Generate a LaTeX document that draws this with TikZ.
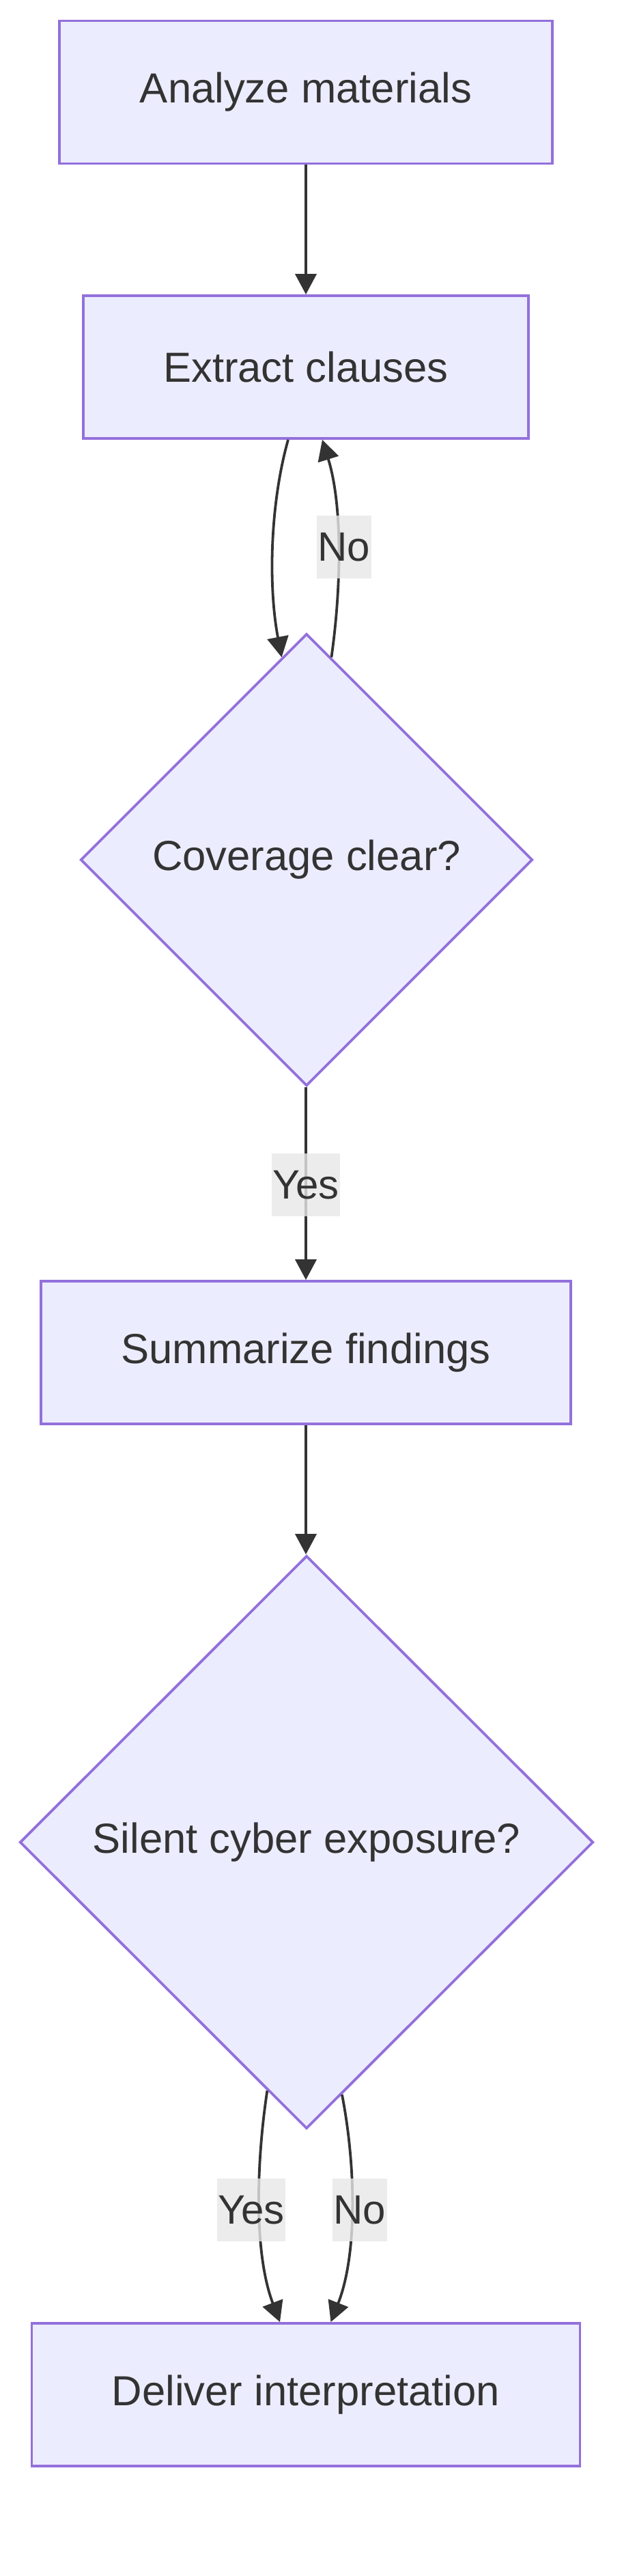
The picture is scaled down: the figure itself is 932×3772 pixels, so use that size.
\documentclass[tikz,border=0pt]{standalone}
\usepackage{fontspec}
\setmainfont{Liberation Sans}
\usetikzlibrary{shapes.geometric,arrows.meta}
\definecolor{nodefill}{HTML}{ECECFF}
\definecolor{nodeline}{HTML}{9370DB}
\definecolor{ink}{HTML}{333333}
\definecolor{lblbg}{HTML}{E8E8E8}
\begin{document}
\begin{tikzpicture}[x=1pt,y=-1pt,
  box/.style={draw=nodeline, fill=nodefill, line width=3.8pt, text=ink,
    font=\fontsize{61.6}{74}\selectfont, inner sep=0pt},
  proc/.style={box, rectangle, minimum height=209pt},
  decision/.style={box, diamond, aspect=1},
  edge/.style={draw=ink, line width=3.8pt, -{Triangle[length=30pt,width=31pt]}},
  lbl/.style={fill=lblbg, fill opacity=0.8, text opacity=1, text=ink,
    font=\fontsize{60}{72}\selectfont, inner xsep=1.5pt, inner ysep=0pt, minimum height=92pt}]
\useasboundingbox (0,0) rectangle (932,3772);
\fill[white] (0,0) rectangle (932,3772);

\node[proc, minimum width=722pt] (a) at (448,135) {Analyze materials};
\node[proc, minimum width=652pt] (b) at (448,537.5) {Extract clauses};
\node[decision, minimum width=662pt, minimum height=662pt] (d1) at (449,1259) {Coverage clear?};
\node[proc, minimum width=776pt] (c) at (448,1980.5) {Summarize findings};
\node[decision, minimum width=840pt, minimum height=839pt] (d2) at (449,2697.5) {Silent cyber exposure?};
\node[proc, minimum width=803pt] (e) at (448,3506.5) {Deliver interpretation};

\draw[edge] (a.south) -- (b.north);
\draw[edge] ([xshift=-26pt]b.south) .. controls (395,740) and (393,860) .. (d1.97.7);
\draw[edge] (d1.83.4) .. controls (500,860) and (502,740) .. ([xshift=24pt]b.south);
\node[lbl] (lno1) at (504,801) {No};
\draw[edge] (d1.south -| c.north) -- (c.north);
\node[lbl] (lyes1) at (448,1735) {Yes};
\draw[edge] (c.south) -- (c.south |- d2.north);
\draw[edge] (d2.261.4) .. controls (375,3170) and (372,3300) .. ([xshift=-38pt]e.north);
\draw[edge] (d2.278.2) .. controls (521,3170) and (524,3300) .. ([xshift=36.5pt]e.north);
\node[lbl] (lyes2) at (368,3236) {Yes};
\node[lbl] (lno2) at (527,3236) {No};
\end{tikzpicture}
\end{document}
